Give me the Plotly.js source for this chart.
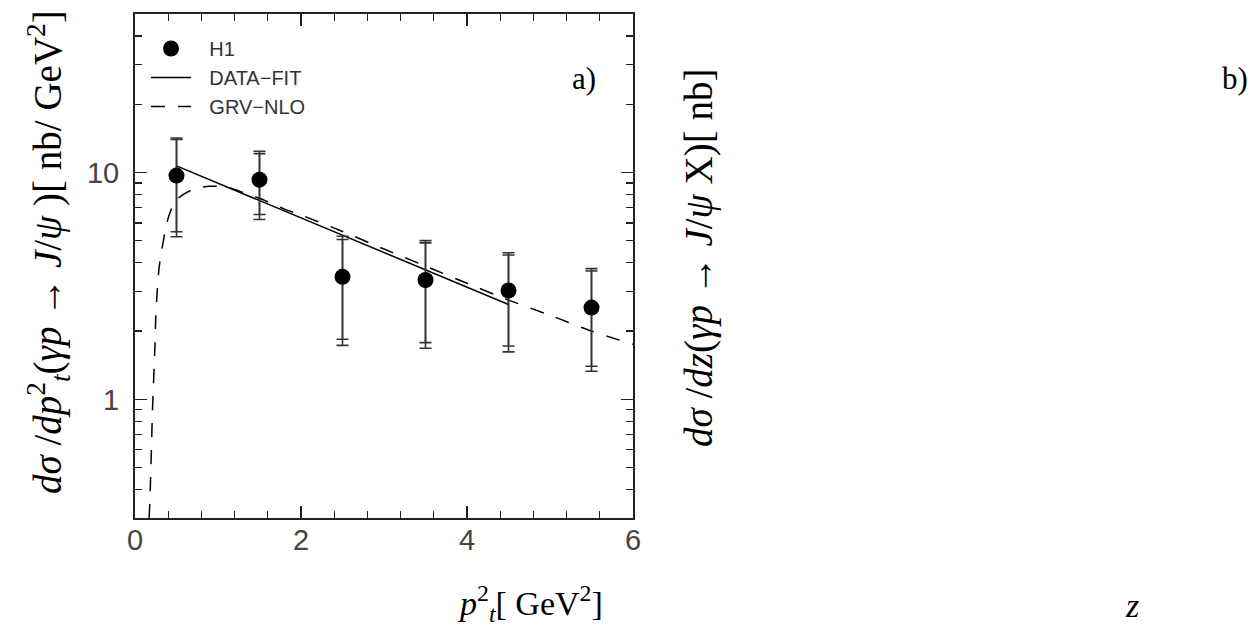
<!DOCTYPE html>
<html>
<head>
<meta charset="utf-8">
<script src="https://cdn.plot.ly/plotly-3.0.1.min.js"></script>
<style>html,body{margin:0;padding:0;background:#fff}#chart{width:1255px;height:628px}</style>
</head>
<body>
<div id="chart"></div>
<script>
// H1 data points (p_t^2 bin centres, cross sections in nb/GeV^2)
var ptBins = [0.5, 1.5, 2.5, 3.5, 4.5, 5.5];
var sigmaH1 = [9.7, 9.3, 3.47, 3.36, 3.02, 2.54];
var totUp = [14.2, 12.4, 5.24, 5.01, 4.43, 3.77];
var totDn = [5.21, 6.21, 1.73, 1.68, 1.62, 1.33];
var statUp = [14.0, 12.1, 5.07, 4.90, 4.33, 3.68];
var statDn = [5.48, 6.53, 1.84, 1.78, 1.72, 1.40];

// DATA-FIT (exponential fit, straight on log scale)
var fitX = [0.5, 4.5];
var fitY = [10.7, 2.62];

// GRV-NLO prediction
var grvX = [0.17, 0.18, 0.19, 0.20, 0.21, 0.22, 0.23, 0.24, 0.25, 0.27, 0.29, 0.32, 0.36, 0.40, 0.46, 0.52, 0.58, 0.72, 0.90, 1.1, 1.25, 1.5, 1.8, 2.0, 2.5, 3.0, 3.5, 4.0, 4.5, 5.0, 5.5, 6.0];
var grvY = [0.30, 0.36, 0.48, 0.65, 0.88, 1.1, 1.38, 1.7, 2.3, 3.1, 3.8, 4.5, 5.45, 6.3, 7.2, 7.7, 8.0, 8.5, 8.7, 8.65, 8.3, 7.7, 6.9, 6.5, 5.5, 4.6, 3.87, 3.25, 2.74, 2.35, 2.0, 1.75];

function diff(a, b) { return a.map(function (v, i) { return v - b[i]; }); }

var errColor = '#333';
var pad = '\u200b\u2002\u2006';
var traces = [
  {
    x: ptBins, y: sigmaH1, mode: 'markers', type: 'scatter', showlegend: false,
    marker: {size: 16, color: 'rgba(0,0,0,0)'},
    error_y: {type: 'data', symmetric: false, array: diff(statUp, sigmaH1), arrayminus: diff(sigmaH1, statDn),
      color: errColor, thickness: 1.6, width: 6}
  },
  {
    x: fitX, y: fitY, mode: 'lines', type: 'scatter', name: pad + 'DATA\u2212FIT', legendrank: 2,
    line: {color: '#000', width: 1.5}
  },
  {
    x: grvX, y: grvY, mode: 'lines', type: 'scatter', name: pad + 'GRV\u2212NLO', legendrank: 3,
    line: {color: '#000', width: 1.5, dash: '14px,13px', shape: 'spline', smoothing: 0.6}
  },
  {
    x: ptBins, y: sigmaH1, mode: 'markers', type: 'scatter', name: pad + 'H1', legendrank: 1,
    marker: {size: 16, color: '#000'},
    error_y: {type: 'data', symmetric: false, array: diff(totUp, sigmaH1), arrayminus: diff(sigmaH1, totDn),
      color: errColor, thickness: 1.6, width: 6}
  }
];

var L = 135, R = 633, T = 14, B = 518;
function px(xp) { return (xp - L) / (R - L); }
function py(yp) { return (B - yp) / (B - T); }

var serif = 'Liberation Serif, Times New Roman, serif';
var tickFont = {family: 'Liberation Sans, Arial, sans-serif', size: 29, color: '#444'};

function ann(x, y, text, size, angle) {
  return {xref: 'paper', yref: 'paper', x: px(x), y: py(y), text: text, showarrow: false,
    xanchor: 'center', yanchor: 'middle', textangle: angle || 0,
    font: {family: serif, size: size, color: '#000'}};
}

var layout = {
  width: 1255, height: 628,
  margin: {l: L, r: 1255 - R, t: T, b: 628 - B, pad: 0},
  paper_bgcolor: '#fff', plot_bgcolor: '#fff',
  showlegend: true,
  legend: {
    x: px(146), y: py(29), xanchor: 'left', yanchor: 'top',
    traceorder: 'normal',
    font: {family: 'Liberation Sans, Arial, sans-serif', size: 20, color: '#333'},
    bgcolor: 'rgba(0,0,0,0)', borderwidth: 0, itemwidth: 40, tracegroupgap: 0
  },
  xaxis: {
    range: [0, 6], dtick: 2, tick0: 0, ticks: 'inside', ticklen: 12, tickwidth: 1.5, tickcolor: '#222',
    showline: true, linecolor: '#222', linewidth: 2, mirror: 'allticks', showgrid: false, zeroline: false,
    tickfont: tickFont, ticklabelstandoff: -5,
    minor: {dtick: 0.4, ticks: 'inside', ticklen: 7, tickwidth: 1.3, tickcolor: '#222', showgrid: false}
  },
  yaxis: {
    type: 'log', range: [Math.log10(0.3), Math.log10(50)], dtick: 1, ticks: 'inside', ticklen: 12, tickwidth: 1.5, tickcolor: '#222',
    showline: true, linecolor: '#222', linewidth: 2, mirror: 'allticks', showgrid: false, zeroline: false,
    tickfont: tickFont, ticklabelstandoff: 8,
    minor: {dtick: 'D1', ticks: 'inside', ticklen: 7, tickwidth: 1.3, tickcolor: '#222', showgrid: false}
  },
  annotations: [
    ann(584, 78, 'a)', 31),
    ann(1235, 78, 'b)', 31),
    ann(530, 603, '<i>p</i><sup>2</sup><sub><i>t</i></sub>[ GeV<sup>2</sup>]', 34),
    ann(1132, 605, '<i>z</i>', 34),
    ann(48, 252, '<i>d\u03c3</i> /<i>dp</i><sup>2</sup><sub><i>t</i></sub>(<i>\u03b3p</i> \u2192 <i>J</i>/<i>\u03c8</i> )[ nb/ GeV<sup>2</sup>]', 39, -90),
    ann(699, 258, '<i>d\u03c3</i> /<i>dz</i>(<i>\u03b3p</i> \u2192 <i>J</i>/<i>\u03c8</i> X)[ nb]', 39, -90)
  ]
};

Plotly.newPlot('chart', traces, layout, {staticPlot: true, displayModeBar: false});
</script>
</body>
</html>
